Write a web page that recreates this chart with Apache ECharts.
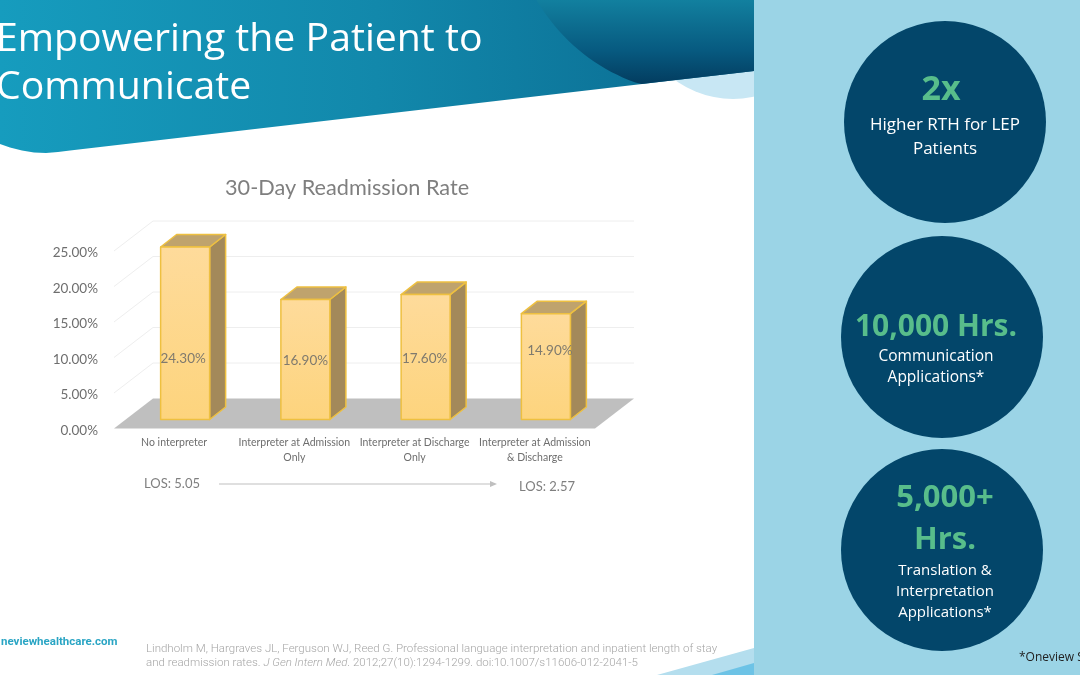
<!DOCTYPE html>
<html>
<head>
<meta charset="utf-8">
<title>Empowering the Patient to Communicate</title>
<style>
  html, body { margin: 0; padding: 0; background: #fff; overflow: hidden; }
  #main { width: 1080px; height: 675px; }
</style>
<script src="https://cdn.jsdelivr.net/npm/echarts@6/dist/echarts.min.js"></script>
</head>
<body>
<div id="main"></div>
<script>
// chart data
var categories = [
  'No interpreter',
  'Interpreter at Admission\nOnly',
  'Interpreter at Discharge\nOnly',
  'Interpreter at Admission\n& Discharge'
];
var readmissionRate = [24.3, 16.9, 17.6, 14.9];
var tickValues = [0, 5, 10, 15, 20, 25];

// hand placed data labels in the original, px from bar centre / bar base
var labelShift = [[-2, -61], [0, -59], [-1, -61], [4, -69]];

// fake 3d depth, px
var WALL_DX = 39, WALL_DY = -30;
var BAR_DX = 11, BAR_DY = -9, DEPTH_DX = 16, DEPTH_DY = -12.5, BAR_HALF = 24.5;

var SANS = '"Open Sans", sans-serif';
var LATO = 'Lato, sans-serif';

function renderWall(params, api) {
  var v = api.value(1);
  var band = api.size([1, 0])[0];
  var p = api.coord([0, v]);
  var x0 = p[0] - band / 2, y0 = p[1];
  var x1 = x0 + band * 4;
  if (v === 0) {
    return {
      type: 'polygon',
      shape: { points: [[x0, y0], [x0 + WALL_DX, y0 + WALL_DY], [x1 + WALL_DX, y0 + WALL_DY], [x1, y0]] },
      style: { fill: '#bfbfbf' }
    };
  }
  return {
    type: 'polyline',
    shape: { points: [[x0, y0], [x0 + WALL_DX, y0 + WALL_DY], [x1 + WALL_DX, y0 + WALL_DY]] },
    style: { fill: 'none', stroke: '#eeeeee', lineWidth: 1 }
  };
}

function renderBar(params, api) {
  var i = api.value(0), v = api.value(1);
  var base = api.coord([i, 0]), top = api.coord([i, v]);
  var l = base[0] + BAR_DX - BAR_HALF, r = base[0] + BAR_DX + BAR_HALF;
  var b = base[1] + BAR_DY, t = top[1] + BAR_DY;
  var edge = { stroke: '#eec040', lineWidth: 1.5, lineJoin: 'round' };
  return {
    type: 'group',
    children: [
      {
        type: 'polygon',
        shape: { points: [[r, t], [r + DEPTH_DX, t + DEPTH_DY], [r + DEPTH_DX, b + DEPTH_DY], [r, b]] },
        style: Object.assign({ fill: '#a3895a' }, edge)
      },
      {
        type: 'polygon',
        shape: { points: [[l, t], [l + DEPTH_DX, t + DEPTH_DY], [r + DEPTH_DX, t + DEPTH_DY], [r, t]] },
        style: Object.assign({ fill: '#bfa36d' }, edge)
      },
      {
        type: 'rect',
        shape: { x: l, y: t, width: r - l, height: b - t },
        style: Object.assign({
          fill: new echarts.graphic.LinearGradient(0, 0, 0, 1, [
            { offset: 0, color: '#fedb9b' },
            { offset: 1, color: '#fdd47d' }
          ])
        }, edge)
      },
      {
        type: 'text',
        x: (l + r) / 2 + labelShift[i][0],
        y: b + labelShift[i][1],
        style: {
          text: v.toFixed(2) + '%',
          x: 0, y: 0,
          fill: '#7f7a6e',
          font: '13.5px ' + LATO,
          align: 'center',
          verticalAlign: 'middle'
        }
      }
    ]
  };
}

// dark swoosh is a circle cut off by the banner edge
function bannerY(x) { return 153 + (x - 48) * (71 - 153) / (754 - 48); }
var swoosh = [];
for (var a = 0; a < 360; a += 2) {
  var sx = Math.min(700 + 189 * Math.cos(a * Math.PI / 180), 754);
  var sy = -95 + 189 * Math.sin(a * Math.PI / 180);
  swoosh.push([sx, Math.max(0, Math.min(sy, bannerY(sx)))]);
}

// banner outline, rounded bottom left corner
var bannerShape = [[0, 0], [754, 0], [754, 71], [70, 150.5], [58, 152], [46, 153], [34, 152.5], [22, 150.5], [10, 147.5], [0, 144]];

function label(text, x, y, size, color, weight, align, family) {
  return {
    type: 'text',
    x: x, y: y,
    style: {
      text: text,
      fill: color,
      fontSize: size,
      fontWeight: weight || 'normal',
      fontFamily: family || SANS,
      align: align || 'center',
      verticalAlign: 'middle'
    }
  };
}

var GREEN = '#58bd8b';
var backdrop = [
  // light circle behind the banner
  { type: 'circle', shape: { cx: 733, cy: 1, r: 98 }, style: { fill: '#c8e7f4' } },
  {
    type: 'polygon',
    shape: { points: bannerShape },
    style: {
      fill: new echarts.graphic.LinearGradient(0, 0, 1, 0, [
        { offset: 0, color: '#169cbe' },
        { offset: 0.5, color: '#1288ab' },
        { offset: 1, color: '#0a6a90' }
      ])
    }
  },
  {
    type: 'polygon',
    shape: { points: swoosh },
    style: {
      fill: new echarts.graphic.LinearGradient(0, 0, 0, 1, [
        { offset: 0, color: '#12809f' },
        { offset: 0.6, color: '#075a80' },
        { offset: 1, color: '#033c5f' }
      ])
    }
  },
  // bottom corner accent
  { type: 'polygon', shape: { points: [[657, 675], [754, 648], [754, 675]] }, style: { fill: '#b4deee' } },
  { type: 'polygon', shape: { points: [[712, 675], [754, 663], [754, 675]] }, style: { fill: '#6dc3e6' } },
  // right panel
  { type: 'rect', shape: { x: 754, y: 0, width: 326, height: 675 }, style: { fill: '#9bd4e6' } },
  { type: 'circle', shape: { cx: 945, cy: 122, r: 101 }, style: { fill: '#03466a' } },
  { type: 'circle', shape: { cx: 942, cy: 337, r: 101 }, style: { fill: '#03466a' } },
  { type: 'circle', shape: { cx: 942, cy: 550, r: 101 }, style: { fill: '#03466a' } },

  label('Empowering the Patient to', -4, 40, 39.2, '#ffffff', 'normal', 'left'),
  label('Communicate', -4, 88, 39.2, '#ffffff', 'normal', 'left'),

  label('2x', 941, 90, 34, GREEN, 'bold'),
  label('Higher RTH for LEP', 945, 125, 17, '#ffffff'),
  label('Patients', 945, 149, 17, '#ffffff'),
  label('10,000 Hrs.', 936, 327, 30, GREEN, 'bold'),
  label('Communication', 936, 357, 15.5, '#ffffff'),
  label('Applications*', 936, 378, 15.5, '#ffffff'),
  label('5,000+', 945, 498, 31, GREEN, 'bold'),
  label('Hrs.', 945, 540, 31, GREEN, 'bold'),
  label('Translation &', 945, 571, 15, '#ffffff'),
  label('Interpretation', 945, 592, 15, '#ffffff'),
  label('Applications*', 945, 613, 15, '#ffffff'),
  label('*Oneview S', 1019, 658, 12, '#222222', 'normal', 'left'),

  // LOS arrow below the chart
  label('LOS: 5.05', 172, 484, 13, '#7f7f7f', 'normal', 'center', LATO),
  label('LOS: 2.57', 547, 487, 13, '#7f7f7f', 'normal', 'center', LATO),
  { type: 'line', shape: { x1: 219, y1: 484, x2: 491, y2: 484 }, style: { stroke: '#bfbfbf', lineWidth: 1 } },
  { type: 'polygon', shape: { points: [[490, 481], [497, 484], [490, 487]] }, style: { fill: '#bfbfbf' } },

  // footer
  label('neviewhealthcare.com', 1, 642, 11.5, '#2aa5c4', 'bold', 'left', 'Roboto'),
  {
    type: 'text',
    x: 146, y: 649,
    style: {
      text: 'Lindholm M, Hargraves JL, Ferguson WJ, Reed G. Professional language interpretation and inpatient length of stay',
      fill: '#a6a6a6', fontSize: 11.5, fontWeight: 300, fontFamily: 'Roboto', align: 'left', verticalAlign: 'middle'
    }
  },
  {
    type: 'text',
    x: 146, y: 663,
    style: {
      text: 'and readmission rates. {i|J Gen Intern Med}. 2012;27(10):1294-1299. doi:10.1007/s11606-012-2041-5',
      fill: '#a6a6a6', fontSize: 11.5, fontWeight: 300, fontFamily: 'Roboto', align: 'left', verticalAlign: 'middle',
      rich: {
        i: { fill: '#a6a6a6', fontSize: 11.5, fontWeight: 300, fontStyle: 'italic', fontFamily: 'Roboto' }
      }
    }
  }
];

var myChart = echarts.init(document.getElementById('main'));
myChart.setOption({
  animation: false,
  backgroundColor: '#ffffff',
  title: {
    text: '30-Day Readmission Rate',
    left: 220,
    top: 172,
    textStyle: { color: '#7f7f7f', fontSize: 21.7, fontWeight: 'normal', fontFamily: LATO }
  },
  grid: { left: 114, top: 251, width: 481, height: 177.5 },
  xAxis: {
    type: 'category',
    data: categories,
    axisLine: { show: false },
    axisTick: { show: false },
    axisLabel: {
      color: '#6e6e6e', fontSize: 10.5, fontFamily: LATO, lineHeight: 15, margin: 7, interval: 0
    }
  },
  yAxis: {
    type: 'value',
    min: 0,
    max: 25,
    interval: 5,
    axisLine: { show: false },
    axisTick: { show: false },
    splitLine: { show: false },
    axisLabel: {
      color: '#6e6e6e', fontSize: 13.5, fontFamily: LATO, margin: 16,
      // small line box pushes the text a little below the tick
      verticalAlign: 'top', lineHeight: 4,
      formatter: function (v) { return v.toFixed(2) + '%'; }
    }
  },
  graphic: { elements: backdrop },
  series: [
    {
      type: 'custom',
      z: 1,
      silent: true,
      renderItem: renderWall,
      encode: { x: 0, y: 1 },
      data: tickValues.map(function (v) { return [0, v]; })
    },
    {
      type: 'custom',
      z: 2,
      renderItem: renderBar,
      encode: { x: 0, y: 1 },
      data: readmissionRate.map(function (v, i) { return [i, v]; })
    }
  ]
});
</script>
</body>
</html>
